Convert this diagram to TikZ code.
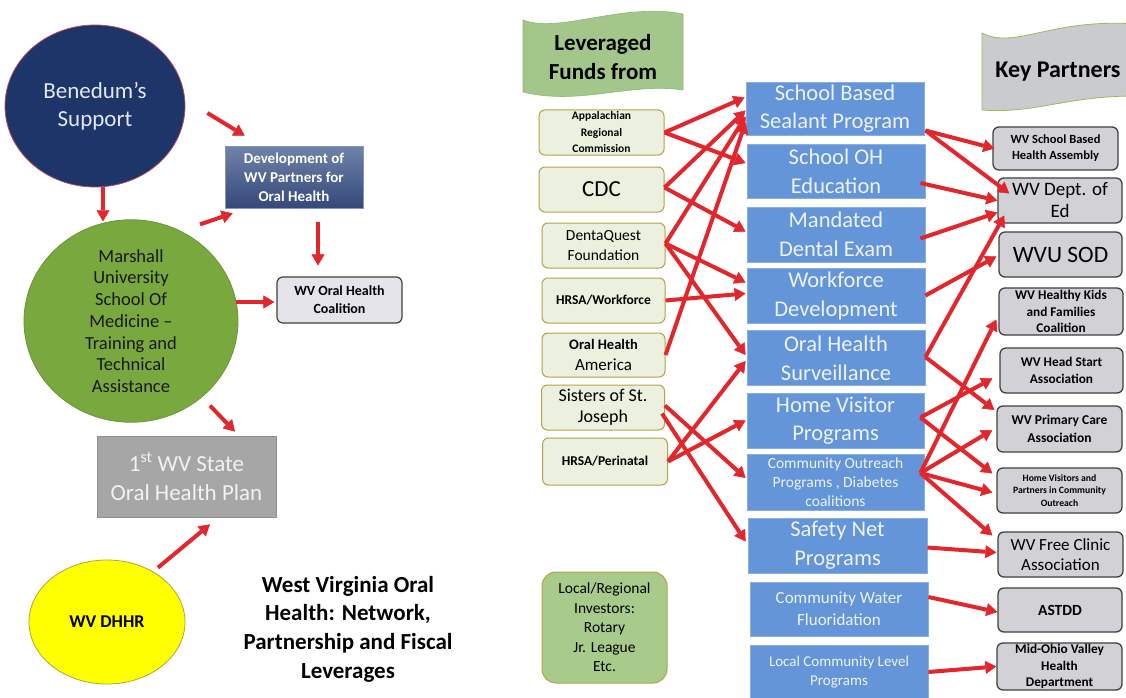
\documentclass[tikz,border=0pt]{standalone}
\usepackage{fontspec}
\setmainfont{Carlito}
\usetikzlibrary{arrows.meta,calc,shapes.geometric}
\newcommand\txtsz[2]{\fontsize{#1}{#2}\selectfont}
\definecolor{arrred}{HTML}{E3262B}
\definecolor{navy}{HTML}{1D3568}
\definecolor{navyedge}{HTML}{B84A5E}
\definecolor{navytext}{HTML}{E2E8F2}
\definecolor{devtop}{HTML}{7083A9}
\definecolor{devbot}{HTML}{34487A}
\definecolor{devedge}{HTML}{8696BA}
\definecolor{msgreen}{HTML}{79A83E}
\definecolor{msedge}{HTML}{6B9534}
\definecolor{plangray}{HTML}{A6A6A6}
\definecolor{planedge}{HTML}{909090}
\definecolor{plantext}{HTML}{F2F2F2}
\definecolor{dhhryellow}{HTML}{FFFF00}
\definecolor{dhhredge}{HTML}{A8A838}
\definecolor{fundfill}{HTML}{EBF1DE}
\definecolor{fundedge}{HTML}{B4A443}
\definecolor{localfill}{HTML}{A8CB8B}
\definecolor{progfill}{HTML}{6395D8}
\definecolor{progedge}{HTML}{88AFE0}
\definecolor{progtext}{HTML}{EEF3FB}
\definecolor{partfill}{HTML}{D2D2D6}
\definecolor{partedge}{HTML}{404040}
\definecolor{coalfill}{HTML}{E4E4EA}
\definecolor{bannergreen}{HTML}{A3C68A}
\definecolor{bannergreenedge}{HTML}{8FB874}
\definecolor{bannergray}{HTML}{CACBCF}
\definecolor{bannergrayedge}{HTML}{9BBB59}
\begin{document}
\begin{tikzpicture}[x=1pt,y=-1pt,
  arr/.style={draw=arrred,line width=4pt,
    -{Triangle[length=11pt,width=13pt,line width=0.5pt]}},
  sz/.style 2 args={minimum width=#1,minimum height=#2},
  fundbox/.style={draw=fundedge,fill=fundfill,rounded corners=6pt,
    line width=1pt,inner sep=0pt,align=center,text=black},
  progbox/.style={draw=progedge,fill=progfill,line width=0.8pt,
    inner sep=0pt,align=center,text=progtext},
  partbox/.style={draw=partedge,fill=partfill,rounded corners=6pt,
    line width=1.3pt,inner sep=0pt,align=center,text=black},
]
\useasboundingbox (0,0) rectangle (1126,698);
\fill[white] (0,0) rectangle (1126,698);

% ---------- left network ----------
\node[ellipse,fill=navy,draw=navyedge,line width=0.8pt,sz={180pt}{162pt},
  inner sep=0pt,align=center,text=navytext,font=\txtsz{23}{28}]
  (benedum) at (95,106) {Benedum’s\\Support};
\node[rectangle,top color=devtop,bottom color=devbot,draw=devedge,
  line width=0.6pt,sz={138pt}{62pt},inner sep=0pt,align=center,text=white,
  font=\bfseries\txtsz{15}{19}]
  (dev) at (294,177) {Development of\\WV Partners for\\Oral Health};
\node[ellipse,fill=msgreen,draw=msedge,line width=0.8pt,sz={214pt}{172pt},
  inner sep=0pt,align=center,text=black!90,font=\txtsz{18.5}{21.7}]
  (marshall) at (131,321)
  {Marshall\\University\\School Of\\Medicine --\\Training and\\Technical\\Assistance};
\node[rectangle,rounded corners=6pt,fill=coalfill,draw=partedge,line width=1.2pt,
  sz={125pt}{46pt},inner sep=0pt,align=center,font=\bfseries\txtsz{14}{18}]
  (coalition) at (339.5,300) {WV Oral Health\\Coalition};
\node[rectangle,fill=plangray,draw=planedge,line width=0.8pt,sz={179pt}{81pt},
  inner sep=0pt,align=center,text=plantext,font=\txtsz{23}{29}]
  (plan) at (186.5,476.5) {1\textsuperscript{st} WV State\\Oral Health Plan};
\node[ellipse,fill=dhhryellow,draw=dhhredge,line width=0.8pt,sz={156pt}{124pt},
  inner sep=0pt,align=center,font=\bfseries\txtsz{18}{20}]
  (dhhr) at (107,622) {WV DHHR};
\node[align=center,inner sep=0pt,font=\bfseries\txtsz{23}{28.7}]
  (title) at (348,629)
  {West Virginia Oral\\Health: Network,\\Partnership and Fiscal\\Leverages};

% ---------- banners ----------
\path[fill=bannergreen,draw=bannergreenedge,line width=0.6pt]
  (523,20) .. controls (560,34) and (622,2) .. (683,14)
  -- (683,90) .. controls (630,82) and (580,106) .. (523,92) -- cycle;
\node[align=center,inner sep=0pt,font=\bfseries\txtsz{23}{29}]
  (fundshead) at (603,57.5) {Leveraged\\Funds from};
\path[fill=bannergray,draw=bannergrayedge,line width=0.8pt]
  (982,33) .. controls (1015,50) and (1050,18) .. (1136,24)
  -- (1136,96) .. controls (1065,96) and (1035,114) .. (982,110) -- cycle;
\node[inner sep=0pt,font=\bfseries\txtsz{24}{26}]
  (partnershead) at (1058,72) {Key Partners};

% ---------- funding sources ----------
\node[fundbox,sz={125pt}{45pt},font=\bfseries\txtsz{11.5}{16.5}]
  (arc) at (601.5,132.5) {Appalachian\\Regional\\Commission};
\node[fundbox,sz={125pt}{45pt},font=\txtsz{23}{26}]
  (cdc) at (601.5,189.5) {CDC};
\node[fundbox,sz={123pt}{45pt},font=\txtsz{15.5}{20}]
  (dq) at (603.5,245.5) {DentaQuest\\Foundation};
\node[fundbox,sz={123pt}{45pt},font=\bfseries\txtsz{13.5}{16}]
  (hrsaw) at (603.5,300.5) {HRSA/Workforce};
\node[fundbox,sz={123pt}{44pt},font=\txtsz{17}{21}]
  (oha) at (603.5,355) {{\bfseries\txtsz{14.5}{21}Oral Health}\\America};
\node[fundbox,sz={123pt}{45pt},font=\txtsz{18}{21}]
  (sisters) at (603,407.5) {Sisters of St.\\Joseph};
\node[fundbox,sz={125pt}{47pt},font=\bfseries\txtsz{13.5}{16}]
  (hrsap) at (605,461.5) {HRSA/Perinatal};
\node[fundbox,fill=localfill,rounded corners=14pt,sz={125pt}{111pt},
  font=\txtsz{15.5}{19.5}]
  (local) at (604.5,627.5) {Local/Regional\\Investors:\\Rotary\\Jr. League\\Etc.};

% ---------- programs ----------
\node[progbox,sz={178pt}{53pt},font=\txtsz{22.5}{28}]
  (sealant) at (835,108.5) {School Based\\Sealant Program};
\node[progbox,sz={178pt}{54pt},font=\txtsz{22.5}{29}]
  (ohed) at (836,171) {School OH\\Education};
\node[progbox,sz={178pt}{55pt},font=\txtsz{22.5}{29}]
  (mandated) at (836,234.5) {Mandated\\Dental Exam};
\node[progbox,sz={178pt}{55pt},font=\txtsz{22.5}{29}]
  (workforce) at (836,295.5) {Workforce\\Development};
\node[progbox,sz={178pt}{55pt},font=\txtsz{22.5}{29}]
  (surv) at (836,358) {Oral Health\\Surveillance};
\node[progbox,sz={177pt}{55pt},font=\txtsz{22.5}{28}]
  (homevis) at (835.5,420.5) {Home Visitor\\Programs};
\node[progbox,sz={177pt}{56pt},font=\txtsz{15.5}{19}]
  (outreach) at (835.5,482) {Community Outreach\\Programs , Diabetes\\coalitions};
\node[progbox,sz={179pt}{55pt},font=\txtsz{22.5}{29}]
  (safety) at (837.5,545.5) {Safety Net\\Programs};
\node[progbox,sz={178pt}{54pt},font=\txtsz{17}{22}]
  (water) at (839,609) {Community Water\\Fluoridation};
\node[progbox,sz={178pt}{54pt},font=\txtsz{15}{19}]
  (localprog) at (839,672) {Local Community Level\\Programs};

% ---------- partners ----------
\node[partbox,sz={125pt}{43pt},font=\bfseries\txtsz{12.5}{16}]
  (sbha) at (1055.5,148.5) {WV School Based\\Health Assembly};
\node[partbox,sz={124pt}{45pt},font=\txtsz{19}{22}]
  (deptEd) at (1060,200.5) {WV Dept. of\\Ed};
\node[partbox,sz={123pt}{45pt},font=\txtsz{23.5}{26}]
  (wvusod) at (1060.5,254.5) {WVU SOD};
\node[partbox,sz={124pt}{47pt},font=\bfseries\txtsz{13.3}{16.5}]
  (kids) at (1061,311.5) {WV Healthy Kids\\and Families\\Coalition};
\node[partbox,sz={123pt}{45pt},font=\bfseries\txtsz{13.3}{17}]
  (headstart) at (1061.5,370.5) {WV Head Start\\Association};
\node[partbox,sz={125pt}{46pt},font=\bfseries\txtsz{13.5}{17.5}]
  (primary) at (1059.5,429) {WV Primary Care\\Association};
\node[partbox,sz={125pt}{45pt},font=\bfseries\txtsz{9.7}{12.5}]
  (hvp) at (1059.5,490.5) {Home Visitors and\\Partners in Community\\Outreach};
\node[partbox,sz={125pt}{45pt},font=\txtsz{17}{19.5}]
  (freeclinic) at (1060.5,554.5) {WV Free Clinic\\Association};
\node[partbox,sz={124pt}{44pt},font=\bfseries\txtsz{15.5}{18}]
  (astdd) at (1060,610) {ASTDD};
\node[partbox,sz={125pt}{47pt},font=\bfseries\txtsz{13.3}{16.5}]
  (midohio) at (1059.5,666.5) {Mid-Ohio Valley\\Health\\Department};

% ---------- left arrows ----------
\draw[arr] ($(benedum.east)+(22,7)$) -- ($(dev.north west)+(20,-10)$);
\draw[arr] ($(benedum.south)+(8,0)$) -- ($(marshall.north)+(-28,2)$);
\draw[arr] ($(marshall.north)+(69,5)$) -- ($(dev.south west)+(8,5)$);
\draw[arr] ($(dev.south)+(24,14)$) -- ($(coalition.north)+(-21.5,-11)$);
\draw[arr] ($(marshall.east)+(-2,-19)$) -- ($(coalition.west)+(-2,2)$);
\draw[arr] ($(marshall.south)+(79,-17)$) -- ($(plan.north)+(48.5,-4)$);
\draw[arr] ($(dhhr.north)+(51,8)$) -- ($(plan.south)+(23.5,7)$);

% ---------- funds to programs ----------
\draw[arr] (arc.east) -- ($(sealant.west)+(-1,-11)$);
\draw[arr] (arc.east) -- ($(ohed.west)+(-1,-8)$);
\draw[arr] ($(cdc.east)+(0,-2)$) -- ($(sealant.west)+(0,2)$);
\draw[arr] ($(cdc.east)+(0,-2)$) -- ($(mandated.west)+(-1,-3)$);
\draw[arr] ($(dq.east)+(0,-2)$) -- ($(sealant.west)+(0,8)$);
\draw[arr] ($(dq.east)+(0,-2)$) -- ($(workforce.west)+(-1,-13)$);
\draw[arr] ($(dq.east)+(0,-2)$) -- ($(surv.west)+(-1,-3)$);
\draw[arr] (hrsaw.east) -- ($(workforce.west)+(-1,-2)$);
\draw[arr] (oha.east) -- ($(sealant.west)+(0,14)$);
\draw[arr] ($(sisters.east)+(0,-2)$) -- ($(outreach.west)+(-1,-4)$);
\draw[arr] ($(sisters.east)+(-3,6)$) -- ($(safety.west)+(-2,-4)$);
\draw[arr] (hrsap.east) -- ($(surv.west)+(-1,3)$);
\draw[arr] (hrsap.east) -- ($(homevis.west)+(-1,0)$);

% ---------- programs to partners ----------
\draw[arr] ($(sealant.east)+(1,22)$) -- ($(sbha.west)+(2,0)$);
\draw[arr] ($(sealant.east)+(1,22)$) -- ($(deptEd.west)+(12,-7)$);
\draw[arr] ($(ohed.east)+(-5,12)$) -- ($(deptEd.west)+(0,0)$);
\draw[arr] ($(mandated.east)+(-5,4)$) -- ($(deptEd.west)+(0,12)$);
\draw[arr] (workforce.east) -- ($(wvusod.west)+(-2,2)$);
\draw[arr] ($(surv.east)+(0,-1)$) -- ($(deptEd.west)+(7,15)$);
\draw[arr] ($(surv.east)+(0,-1)$) -- ($(primary.west)+(-2,-19)$);
\draw[arr] ($(homevis.east)+(-4,-3)$) -- ($(headstart.west)+(-7,8)$);
\draw[arr] ($(homevis.east)+(-4,-3)$) -- ($(hvp.west)+(-4,-17)$);
\draw[arr] ($(outreach.east)+(-4,-9)$) -- ($(kids.west)+(-2,8)$);
\draw[arr] ($(outreach.east)+(-4,-9)$) -- ($(primary.west)+(-4,1)$);
\draw[arr] ($(outreach.east)+(-4,-9)$) -- ($(hvp.west)+(-4,2)$);
\draw[arr] ($(outreach.east)+(-4,-9)$) -- ($(freeclinic.west)+(-5,-19)$);
\draw[arr] ($(safety.east)+(0,2)$) -- ($(freeclinic.west)+(-1,-2)$);
\draw[arr] ($(water.east)+(0,-12)$) -- ($(astdd.west)+(0,2)$);
\draw[arr] (localprog.east) -- (midohio.west);
\end{tikzpicture}
\end{document}
